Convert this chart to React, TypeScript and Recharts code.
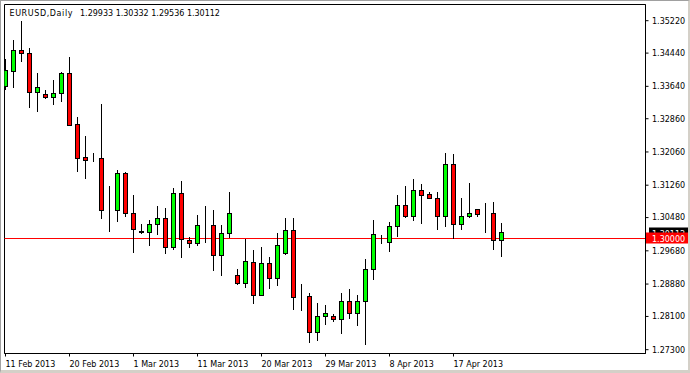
import React from 'react';
import { ComposedChart, Bar, XAxis, YAxis, ReferenceLine, ReferenceArea } from 'recharts';

// EURUSD daily bars (broker feed includes Sunday bars)
const dates = [
  '2013.02.11', '2013.02.12', '2013.02.13', '2013.02.14', '2013.02.15', '2013.02.17', '2013.02.18', '2013.02.19',
  '2013.02.20', '2013.02.21', '2013.02.22', '2013.02.24', '2013.02.25', '2013.02.26', '2013.02.27', '2013.02.28',
  '2013.03.01', '2013.03.03', '2013.03.04', '2013.03.05', '2013.03.06', '2013.03.07', '2013.03.08', '2013.03.10',
  '2013.03.11', '2013.03.12', '2013.03.13', '2013.03.14', '2013.03.15', '2013.03.17', '2013.03.18', '2013.03.19',
  '2013.03.20', '2013.03.21', '2013.03.22', '2013.03.24', '2013.03.25', '2013.03.26', '2013.03.27', '2013.03.28',
  '2013.03.29', '2013.03.31', '2013.04.01', '2013.04.02', '2013.04.03', '2013.04.04', '2013.04.05', '2013.04.07',
  '2013.04.08', '2013.04.09', '2013.04.10', '2013.04.11', '2013.04.12', '2013.04.14', '2013.04.15', '2013.04.16',
  '2013.04.17', '2013.04.18', '2013.04.19', '2013.04.21', '2013.04.22', '2013.04.23', '2013.04.24',
];

const opens = [
  1.33641, 1.34002, 1.34507, 1.34435, 1.33496, 1.33448, 1.33376, 1.33472,
  1.33937, 1.32726, 1.31915, 1.3191, 1.31908, 1.3066, 1.30656, 1.31547,
  1.30584, 1.30136, 1.30126, 1.30319, 1.30463, 1.29765, 1.31065, 1.29934,
  1.29861, 1.30298, 1.30295, 1.29573, 1.30102, 1.29091, 1.28898, 1.29404,
  1.2861, 1.2938, 1.29019, 1.29621, 1.30174, 1.28578, 1.28586, 1.27714,
  1.28104, 1.28104, 1.28032, 1.28465, 1.28176, 1.28465, 1.29236, 1.29903,
  1.29885, 1.30271, 1.30776, 1.30511, 1.31137, 1.31041, 1.30945, 1.30511,
  1.31763, 1.30319, 1.30511, 1.30678, 1.30586, 1.30584, 1.29933,
];

const highs = [
  1.34274, 1.34755, 1.35189, 1.34556, 1.33937, 1.33545, 1.33792, 1.33978,
  1.34346, 1.32878, 1.32444, 1.32028, 1.33191, 1.31224, 1.31602, 1.31571,
  1.31, 1.30302, 1.30398, 1.30735, 1.30687, 1.31169, 1.31337, 1.30006,
  1.30519, 1.30735, 1.30639, 1.30295, 1.31072, 1.29219, 1.29941, 1.29676,
  1.29765, 1.29524, 1.30085, 1.3047, 1.3047, 1.28874, 1.28658, 1.28417,
  1.28352, 1.28152, 1.28658, 1.28754, 1.2861, 1.29476, 1.30398, 1.30054,
  1.30367, 1.31019, 1.31217, 1.31385, 1.31265, 1.31089, 1.31072, 1.32011,
  1.31987, 1.30945, 1.31306, 1.3068, 1.30824, 1.30832, 1.30332,
];

const lows = [
  1.33552, 1.33607, 1.34233, 1.33126, 1.33029, 1.33342, 1.33198, 1.3327,
  1.3269, 1.31585, 1.31416, 1.31826, 1.30454, 1.30141, 1.30381, 1.30502,
  1.29635, 1.30102, 1.29804, 1.30068, 1.29621, 1.29717, 1.29515, 1.29748,
  1.29813, 1.29885, 1.29202, 1.29091, 1.30006, 1.28865, 1.28802, 1.28417,
  1.28605, 1.28778, 1.28841, 1.29587, 1.28272, 1.28249, 1.27469, 1.27521,
  1.27911, 1.27984, 1.27685, 1.28056, 1.27887, 1.2743, 1.28995, 1.29852,
  1.29659, 1.3002, 1.30478, 1.30405, 1.30333, 1.3094, 1.30198, 1.30271,
  1.29982, 1.30198, 1.30487, 1.30511, 1.30117, 1.29707, 1.29536,
];

const closes = [
  1.34016, 1.34507, 1.34435, 1.33496, 1.33617, 1.33376, 1.33472, 1.33937,
  1.32702, 1.31908, 1.31859, 1.31905, 1.30656, 1.30656, 1.3153, 1.30584,
  1.30198, 1.3013, 1.30319, 1.30463, 1.29765, 1.31065, 1.29958, 1.29861,
  1.30295, 1.30294, 1.29573, 1.30102, 1.30584, 1.28898, 1.29428, 1.2861,
  1.2938, 1.29019, 1.29813, 1.30174, 1.28561, 1.28574, 1.27714, 1.28104,
  1.28176, 1.28032, 1.28465, 1.28176, 1.28465, 1.29236, 1.30078, 1.29899,
  1.30271, 1.30776, 1.30506, 1.31137, 1.31017, 1.30945, 1.30511, 1.31763,
  1.30319, 1.30511, 1.30584, 1.3056, 1.30582, 1.29934, 1.30112,
];

const priceTicks = [1.3522, 1.3444, 1.3364, 1.3286, 1.3206, 1.3126, 1.3048, 1.2968, 1.2888, 1.281, 1.273];
const dateTicks = ['2013.02.11', '2013.02.20', '2013.03.01', '2013.03.11', '2013.03.20', '2013.03.29', '2013.04.08', '2013.04.17'];
const monthNames = ['Jan', 'Feb', 'Mar', 'Apr', 'May', 'Jun', 'Jul', 'Aug', 'Sep', 'Oct', 'Nov', 'Dec'];

const symbolTitle = 'EURUSD,Daily';
const lastBar = '1.29933 1.30332 1.29536 1.30112';
const bidPrice = 1.30112;
const levelPrice = 1.3;

const FONT = "Tahoma, 'DejaVu Sans', sans-serif";
const Y_DOMAIN: [number, number] = [1.27208, 1.3561];
const X_DOMAIN: [number, number] = [-0.125, 80];

const data = dates.map((date, i) => ({
  i,
  date,
  open: opens[i],
  high: highs[i],
  low: lows[i],
  close: closes[i],
}));

function fmtDate(i: number) {
  const d = dates[i];
  if (!d) return '';
  const [y, m, day] = d.split('.');
  return `${Number(day)} ${monthNames[Number(m) - 1]} ${y}`;
}

const snap = (v: number) => Math.round(v - 0.5) + 0.5;

function Candle(props: any) {
  const { x, y, width, height, payload } = props;
  if (x == null || !payload) return null;
  const { open, close, high, low } = payload;
  const k = height / (high - low || 1);
  const py = (v: number) => y + (high - v) * k;
  const cx = snap(x + width / 2);
  const top = snap(py(Math.max(open, close)));
  const bot = snap(py(Math.min(open, close)));
  const up = close >= open;
  return (
    <g>
      <line x1={cx} x2={cx} y1={snap(py(high)) - 0.5} y2={snap(py(low)) + 0.5} stroke="#000" strokeWidth={1} />
      <rect x={cx - 2} y={top} width={4} height={Math.max(bot - top, 0)} fill={up ? '#00ff00' : '#ff0000'} stroke="#000" strokeWidth={1} />
    </g>
  );
}

// horizontal level: line across the plot plus a price box on the axis
function LevelLine(props: any) {
  const { viewBox, text, bg, inset = 0, drawLine = false } = props;
  if (!viewBox) return null;
  const x = viewBox.x + viewBox.width;
  const y = Math.round(viewBox.y);
  return (
    <g>
      {drawLine && (
        <line x1={viewBox.x} x2={x} y1={y + 0.5} y2={y + 0.5} stroke="#ff0000" strokeWidth={1} />
      )}
      <rect x={x + 0.5 + inset} y={y - 5.5} width={43.5 - inset} height={11} fill={bg} />
      <text x={x + 6.5} y={y + 3.5} fill="#fff" fontSize={8} fontFamily={FONT}>
        {text}
      </text>
    </g>
  );
}

function DateTick(props: any) {
  const { x, y, payload } = props;
  return (
    <text x={x} y={y + 8} fontSize={8} fontFamily={FONT} fill="#000" textAnchor="start">
      {fmtDate(payload.value)}
    </text>
  );
}

export default function App() {
  return (
    <div style={{ position: 'relative', width: 690, height: 373, background: '#fff' }}>
      <style>{'body{margin:0}'}</style>
      <ComposedChart width={690} height={373} data={data} margin={{ top: 4.5, left: 4.5, right: 0, bottom: 0 }}>
        <XAxis
          dataKey="i"
          type="number"
          domain={X_DOMAIN}
          allowDataOverflow
          ticks={dateTicks.map((d) => dates.indexOf(d))}
          interval={0}
          height={19.5}
          tickSize={3}
          stroke="#000"
          tick={<DateTick />}
        />
        <YAxis
          orientation="right"
          type="number"
          domain={Y_DOMAIN}
          allowDataOverflow
          ticks={priceTicks}
          interval={0}
          width={44.5}
          tickSize={3}
          tickMargin={3.5}
          stroke="#000"
          tick={{ fill: '#000', fontSize: 8, fontFamily: FONT }}
          tickFormatter={(v: number) => v.toFixed(5)}
        />
        <ReferenceLine
          y={levelPrice}
          stroke="none"
          zIndex={250}
          label={<LevelLine text="" bg="none" drawLine />}
        />
        <Bar
          dataKey={(d: any) => [d.low, d.high]}
          barSize={5}
          shape={<Candle />}
          isAnimationActive={false}
        />
        <ReferenceLine y={bidPrice} stroke="none" label={<LevelLine text={bidPrice.toFixed(5)} bg="#000" inset={3} />} />
        <ReferenceLine y={levelPrice} stroke="none" label={<LevelLine text={levelPrice.toFixed(5)} bg="#ff0000" />} />
        <ReferenceArea
          x1={X_DOMAIN[0]}
          x2={X_DOMAIN[1]}
          y1={Y_DOMAIN[0]}
          y2={Y_DOMAIN[1]}
          fill="none"
          stroke="#000"
          strokeWidth={1}
          ifOverflow="visible"
        />
      </ComposedChart>
      <svg width={690} height={24} style={{ position: 'absolute', left: 0, top: 0, pointerEvents: 'none' }}>
        <text x={9.5} y={15.7} fontSize={8} fontFamily={FONT} fill="#000" textLength={63} lengthAdjust="spacing">
          {symbolTitle}
        </text>
        <text x={80} y={15.7} fontSize={8} fontFamily={FONT} fill="#000">
          {lastBar}
        </text>
      </svg>
      <div
        style={{
          position: 'absolute',
          inset: 0,
          boxSizing: 'border-box',
          borderTop: '1px solid #a0a0a0',
          borderLeft: '1px solid #a0a0a0',
          borderRight: '2px solid #d4d0c8',
          borderBottom: '3px solid #d4d0c8',
          pointerEvents: 'none',
        }}
      />
    </div>
  );
}
